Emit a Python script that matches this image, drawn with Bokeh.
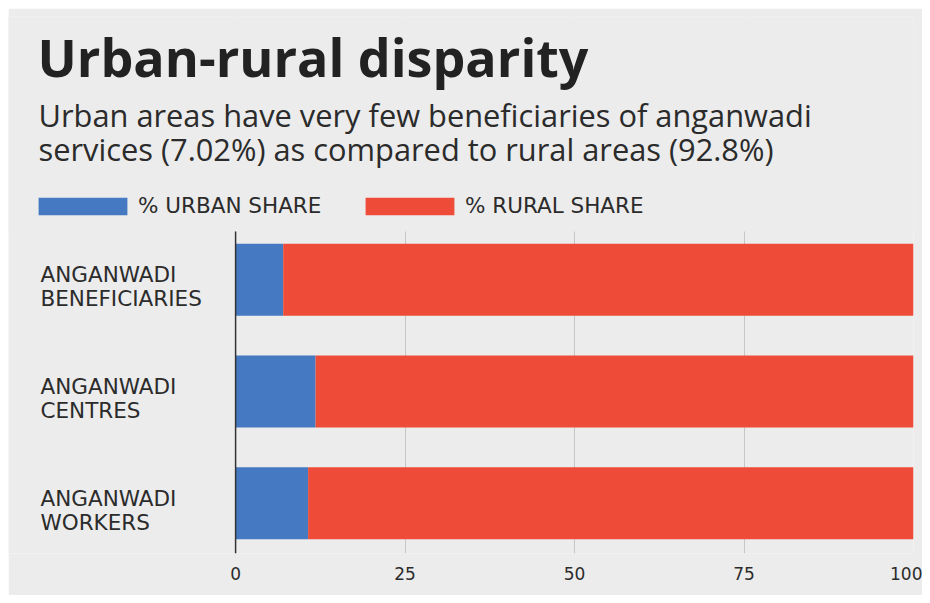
from bokeh.plotting import figure
from bokeh.models import (ColumnDataSource, Range1d, FixedTicker, Label, LabelSet,
                          BoxAnnotation)
from bokeh.core.properties import value
from bokeh.embed import file_html
from bokeh.resources import INLINE

# ---- data ----
categories = ["ANGANWADI BENEFICIARIES", "ANGANWADI CENTRES", "ANGANWADI WORKERS"]
urban_share = [7.02, 11.8, 10.7]
rural_share = [92.98, 88.2, 89.3]
series_names = ["% URBAN SHARE", "% RURAL SHARE"]
x_ticks = [0, 25, 50, 75, 100]
title_text = "Urban-rural disparity"
subtitle_lines = ["Urban areas have very few beneficiaries of anganwadi",
                  "services (7.02%) as compared to rural areas (92.8%)"]

BLUE = "#4579c2"
RED = "#ee4c39"
BG = "#ececec"
TXT = "#2b2b2b"

line1 = [c.split(" ", 1)[0] for c in categories]
line2 = [c.split(" ", 1)[1] for c in categories]
src = ColumnDataSource(dict(idx=list(range(len(categories))), urban=urban_share,
                            rural=rural_share, l1=line1, l2=line2))

# frame spans the full width / header so that texts are not clipped
p = figure(width=914, height=587, output_backend="svg", toolbar_location=None,
           x_range=Range1d(-33.5, 100), y_range=Range1d(2.449, -2.354),
           min_border_left=0, min_border_right=9, min_border_top=8, min_border_bottom=42)
p.margin = (8, 8, 8, 8)
p.background_fill_color = BG
p.border_fill_color = BG
p.outline_line_color = None

p.hbar_stack(["urban", "rural"], y="idx", height=0.644, color=[BLUE, RED],
             line_color=None, source=src, legend_label=series_names)

# axes
p.yaxis.visible = False
p.xaxis.ticker = FixedTicker(ticks=x_ticks)
p.xaxis.axis_line_color = None
p.xaxis.major_tick_line_color = None
p.xaxis.minor_tick_line_color = None
p.xaxis.major_label_text_font = "DejaVu Sans"
p.xaxis.major_label_text_font_size = "17px"
p.xaxis.major_label_text_color = TXT
p.xaxis.major_label_standoff = 7

p.xgrid.ticker = FixedTicker(ticks=x_ticks)
p.xgrid.grid_line_color = "#c6c6c6"
p.xgrid.grid_line_width = 1
p.ygrid.grid_line_color = None

# header mask (hides grid lines above the plotting area)
p.add_layout(BoxAnnotation(bottom=-0.431, top=None, fill_color=BG, fill_alpha=1,
                           line_alpha=0, level="glyph"))
# vertical axis line at x = 0 (thin dark box from the plot area top to the bottom)
p.add_layout(BoxAnnotation(left=x_ticks[0] - 0.11, right=x_ticks[0] + 0.11,
                           top=-0.431, bottom=None, fill_color="#333333", fill_alpha=1,
                           line_alpha=0, level="glyph"))

# legend
lg = p.legend[0]
lg.orientation = "horizontal"
lg.location = (19, 335)
lg.glyph_width = 111
lg.glyph_height = 22
lg.label_height = 22
lg.label_width = 216
lg.spacing = 0
lg.padding = 0
lg.margin = 0
lg.label_standoff = 0
lg.label_text_font = "DejaVu Sans"
lg.label_text_font_size = "21.5px"
lg.label_text_color = TXT
lg.background_fill_alpha = 0
lg.border_line_alpha = 0

# category labels
for col, off in (("l1", 5), ("l2", -19)):
    p.add_layout(LabelSet(x=32, y="idx", x_units="screen", y_units="data", text=col,
                          y_offset=off, source=src, text_font=value("DejaVu Sans"),
                          text_font_size=value("21.5px"), text_color=TXT,
                          text_baseline="middle", text_align="left"))

# title & subtitle
p.add_layout(Label(x=29, y=497, x_units="screen", y_units="screen", text=title_text,
                   text_font="Open Sans", text_font_style="bold", text_font_size="52px",
                   text_color="#222222", text_baseline="alphabetic"))
for ln, yy in zip(subtitle_lines, [439, 405]):
    p.add_layout(Label(x=30, y=yy, x_units="screen", y_units="screen", text=ln,
                       text_font="Open Sans", text_font_size="30.8px",
                       text_color=TXT, text_baseline="alphabetic"))

open("out.html", "w").write(file_html(p, INLINE))
